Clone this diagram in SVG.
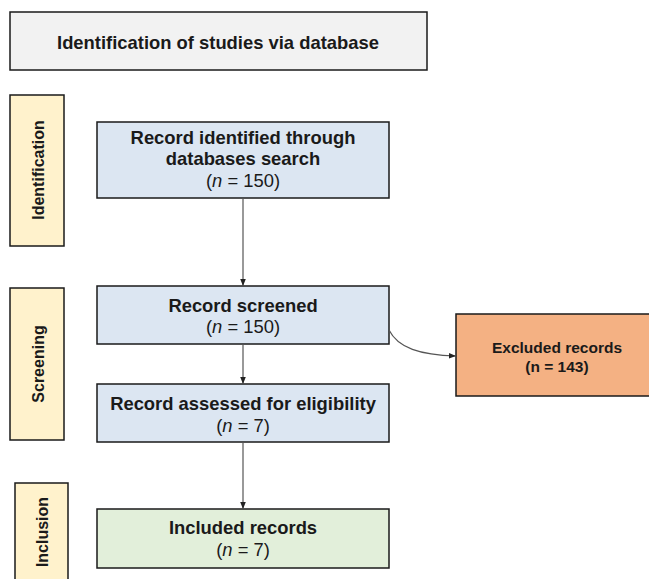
<svg xmlns="http://www.w3.org/2000/svg" width="649" height="579" viewBox="0 0 649 579">
<defs>
<marker id="ah" viewBox="0 0 10 10" refX="10" refY="5" markerWidth="7" markerHeight="7" orient="auto" markerUnits="userSpaceOnUse">
<path d="M0,1 L10,5 L0,9 Z" fill="#222"/>
</marker>
<style>
.box{stroke:#1a1a1a;stroke-width:1.5}
.t{font-family:"Liberation Sans",Arial,sans-serif;fill:#1a1a1a;text-anchor:middle}
.b{font-weight:bold}
.main{font-size:18.4px}
.n{font-size:18.4px}
.side{font-size:16px;font-weight:bold}
.conn{stroke:#555;stroke-width:1.2;fill:none}
</style>
</defs>
<rect width="649" height="579" fill="#ffffff"/>
<g id="title">
<rect class="box" x="10" y="12" width="417" height="58" fill="#f2f2f2"/>
<text class="t b" x="218" y="49" font-size="18.4">Identification of studies via database</text>
</g>
<g id="side-identification">
<rect class="box" x="10" y="95" width="54" height="151" fill="#fff2cc"/>
<text class="t side" transform="translate(43.5,170) rotate(-90)">Identification</text>
</g>
<g id="side-screening">
<rect class="box" x="10" y="288" width="54" height="152" fill="#fff2cc"/>
<text class="t side" transform="translate(43.5,364) rotate(-90)">Screening</text>
</g>
<g id="side-inclusion">
<rect class="box" x="15" y="483" width="53" height="110" fill="#fff2cc"/>
<text class="t side" transform="translate(47.5,532) rotate(-90)">Inclusion</text>
</g>
<g id="identified">
<rect class="box" x="97" y="122" width="292" height="76" fill="#dce6f2"/>
<text class="t b main" x="243" y="144">Record identified through</text>
<text class="t b main" x="243" y="165">databases search</text>
<text class="t n" x="243" y="187">(<tspan font-style="italic">n</tspan> = 150)</text>
</g>
<g id="screened">
<rect class="box" x="97" y="286" width="292" height="58" fill="#dce6f2"/>
<text class="t b main" x="243" y="312">Record screened</text>
<text class="t n" x="243" y="333">(<tspan font-style="italic">n</tspan> = 150)</text>
</g>
<g id="assessed">
<rect class="box" x="97" y="384" width="292" height="58" fill="#dce6f2"/>
<text class="t b main" x="243" y="410">Record assessed for eligibility</text>
<text class="t n" x="243" y="432">(<tspan font-style="italic">n</tspan> = 7)</text>
</g>
<g id="included">
<rect class="box" x="97" y="509" width="292" height="59" fill="#e2efda"/>
<text class="t b main" x="243" y="534">Included records</text>
<text class="t n" x="243" y="556">(<tspan font-style="italic">n</tspan> = 7)</text>
</g>
<g id="excluded">
<rect class="box" x="456" y="314" width="205" height="82" fill="#f4b183"/>
<text class="t b" x="557" y="353" font-size="15.5">Excluded records</text>
<text class="t b" x="557" y="372" font-size="15.5">(n = 143)</text>
</g>
<g id="connectors">
<line class="conn" x1="243" y1="198" x2="243" y2="286" marker-end="url(#ah)"/>
<line class="conn" x1="243" y1="344" x2="243" y2="384" marker-end="url(#ah)"/>
<line class="conn" x1="243" y1="442" x2="243" y2="509" marker-end="url(#ah)"/>
<path class="conn" d="M389,330 C398,348 420,355 456,356" marker-end="url(#ah)"/>
</g>
</svg>
